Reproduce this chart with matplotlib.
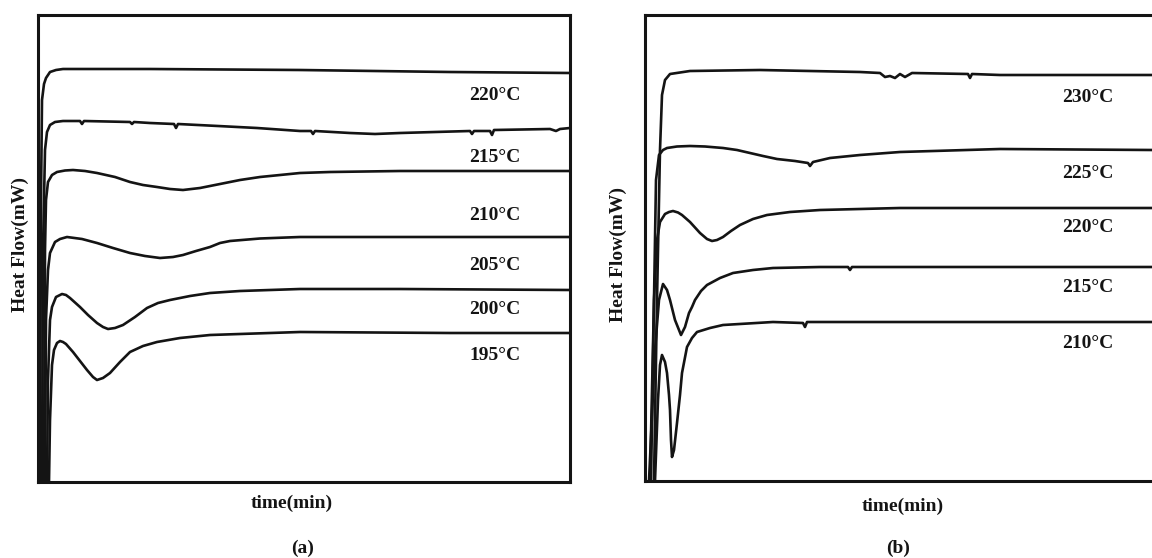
import numpy as np
import matplotlib
matplotlib.use("Agg")
import matplotlib.pyplot as plt

plt.rcParams['font.family'] = ['Liberation Serif', 'DejaVu Serif']
plt.rcParams['font.weight'] = 'bold'

# 数据：DSC 等温结晶曲线（任意单位，从图上读取）
# (a) 195-220°C
temps_a = ["220°C", "215°C", "210°C", "205°C", "200°C", "195°C"]
t_a220 = [2, 3, 4, 6, 8, 12, 18, 25, 112, 262, 412, 532]
h_a220 = [0, 282, 382, 398, 404, 410, 412, 413, 413, 412, 410, 409]
t_a215 = [4, 5, 7, 9, 12, 17, 25, 42, 44, 46, 92, 94, 96, 112, 136, 138, 140, 180, 219,
          262, 273, 275, 277, 312, 337, 362, 432, 434, 436, 452, 454, 456, 512, 518, 522, 532]
h_a215 = [0, 232, 332, 350, 357, 360, 361, 361, 358, 361, 360, 358, 360, 359, 358, 354, 358, 356, 354,
          351, 351, 348, 351, 349, 348, 349, 351, 348, 351, 351, 347, 352, 353, 351, 353, 354]
t_a210 = [6, 7, 8, 10, 14, 19, 27, 35, 47, 59, 68, 77, 92, 105, 119, 132, 145, 162, 182, 202,
          222, 242, 262, 292, 362, 532]
h_a210 = [0, 232, 282, 300, 307, 310, 311.5, 312, 311, 309, 307, 305, 300, 297, 295, 293, 292,
          294, 298, 302, 305, 307, 309, 310, 311, 311]
t_a205 = [7, 8, 10, 12, 17, 22, 29, 44, 59, 75, 92, 107, 122, 135, 145, 158, 172, 182, 192,
          222, 262, 362, 532]
h_a205 = [0, 162, 212, 229, 240, 243, 245, 243, 239, 234, 229, 226, 224, 225, 227, 231, 235,
          239, 241, 243.5, 245, 245, 245]
t_a200 = [9, 10, 12, 14, 18, 24, 28, 32, 42, 50, 59, 65, 70, 77, 85, 97, 109, 120, 132, 152,
          172, 202, 262, 362, 532]
h_a200 = [0, 102, 162, 175, 185, 188, 187, 184, 175, 167, 159, 155, 153, 154, 157, 165, 174,
          179, 182, 186, 189, 191, 193, 193, 192]
t_a195 = [11, 12, 14, 16, 19, 22, 25, 28, 35, 42, 49, 55, 59, 65, 72, 82, 92, 105, 119, 142,
          172, 202, 262, 412, 532]
h_a195 = [0, 62, 117, 132, 139, 141, 140, 138, 130, 121, 112, 105, 102, 104, 109, 120, 130,
          136, 140, 144, 147, 148, 150, 149, 149]

# (b) 210-230°C
temps_b = ["230°C", "225°C", "220°C", "215°C", "210°C"]
t_b230 = [9, 12, 15, 17, 20, 25, 45, 115, 215, 235, 240, 245, 250, 255, 260, 267,
          323, 325, 327, 355, 507, 533]
h_b230 = [0, 181, 331, 386, 401, 407, 410, 411, 409, 408, 404, 405, 403, 407, 404, 408,
          407, 403, 407, 406, 406, 406]
t_b225 = [6, 9, 11, 14, 18, 22, 32, 45, 60, 78, 92, 105, 118, 132, 150, 163, 165, 168, 185,
          215, 255, 355, 507, 533]
h_b225 = [0, 181, 301, 326, 331, 333, 334.5, 335, 334.5, 333, 331, 328, 325, 322, 320, 318,
          315, 319, 323, 326, 329, 332, 331, 331]
t_b220 = [5, 9, 12, 15, 20, 24, 28, 33, 37, 45, 55, 62, 67, 72, 78, 86, 95, 108, 122, 145,
          175, 255, 507, 533]
h_b220 = [0, 181, 241, 259, 267, 269, 270, 268.5, 266, 259, 248, 242, 240, 241, 244, 250,
          256, 262, 266, 269, 271, 273, 273, 273]
t_b215 = [4, 10, 14, 18, 22, 25, 30, 36, 40, 44, 47, 50, 56, 62, 75, 88, 108, 128, 175, 203,
          205, 207, 255, 507, 533]
h_b215 = [0, 131, 181, 197, 191, 181, 161, 146, 154, 168, 174, 181, 190, 196, 203, 208, 211,
          213, 214, 214, 211, 214, 214, 214, 214]
t_b210 = [10, 13, 15, 17, 20, 22, 24, 25, 26, 27, 29, 32, 35, 37, 42, 47, 52, 65, 78, 128, 158,
          160, 162, 255, 507, 533]
h_b210 = [0, 81, 116, 126, 119, 108, 86, 71, 41, 24, 31, 58, 86, 108, 134, 143, 149, 153, 156,
          159, 158, 154, 159, 159, 159, 159]

curves_a = [(t_a220, h_a220), (t_a215, h_a215), (t_a210, h_a210),
            (t_a205, h_a205), (t_a200, h_a200), (t_a195, h_a195)]
curves_b = [(t_b230, h_b230), (t_b225, h_b225), (t_b220, h_b220),
            (t_b215, h_b215), (t_b210, h_b210)]

# 标签位置
lab_a = [(457, 387), (457, 325), (457, 267), (457, 217), (457, 172), (457, 127)]
lab_b = [(443, 384), (443, 308), (443, 253), (443, 194), (443, 138)]

W, H = 1152, 558
fig = plt.figure(figsize=(W / 100, H / 100), dpi=100)
ax1 = fig.add_axes([38 / W, 1 - 482 / H, 532 / W, 467 / H])
ax2 = fig.add_axes([645 / W, 1 - 481 / H, 533 / W, 466 / H])

ink = '#141414'
for ax, curves, temps, labs, xmax, ymax in [
        (ax1, curves_a, temps_a, lab_a, 532, 467),
        (ax2, curves_b, temps_b, lab_b, 533, 466)]:
    for (t, h) in curves:
        ax.plot(t, h, color=ink, lw=1.9, solid_joinstyle='round')
    for name, (x, y) in zip(temps, labs):
        ax.text(x, y, name, fontsize=14, fontweight='bold', color=ink,
                ha='center', va='center')
    ax.set_xlim(0, xmax)
    ax.set_ylim(0, ymax)
    ax.set_xticks([])
    ax.set_yticks([])
    for s in ax.spines.values():
        s.set_linewidth(2.2)
        s.set_color(ink)

fig.text(20 / W, 1 - 245 / H, "Heat Flow(mW)", rotation=90, fontsize=14,
         fontweight='bold', ha='center', va='center', color=ink)
fig.text(618 / W, 1 - 254 / H, "Heat Flow(mW)", rotation=90, fontsize=14,
         fontweight='bold', ha='center', va='center', color=ink)
fig.text(292 / W, 1 - 503 / H, "time(min)", fontsize=14, fontweight='bold',
         ha='center', va='center', color=ink)
fig.text(903 / W, 1 - 506 / H, "time(min)", fontsize=14, fontweight='bold',
         ha='center', va='center', color=ink)
fig.text(303 / W, 1 - 548 / H, "(a)", fontsize=14, fontweight='bold',
         ha='center', va='center', color=ink)
fig.text(898 / W, 1 - 548 / H, "(b)", fontsize=14, fontweight='bold',
         ha='center', va='center', color=ink)

fig.savefig("out.png", dpi=100)
